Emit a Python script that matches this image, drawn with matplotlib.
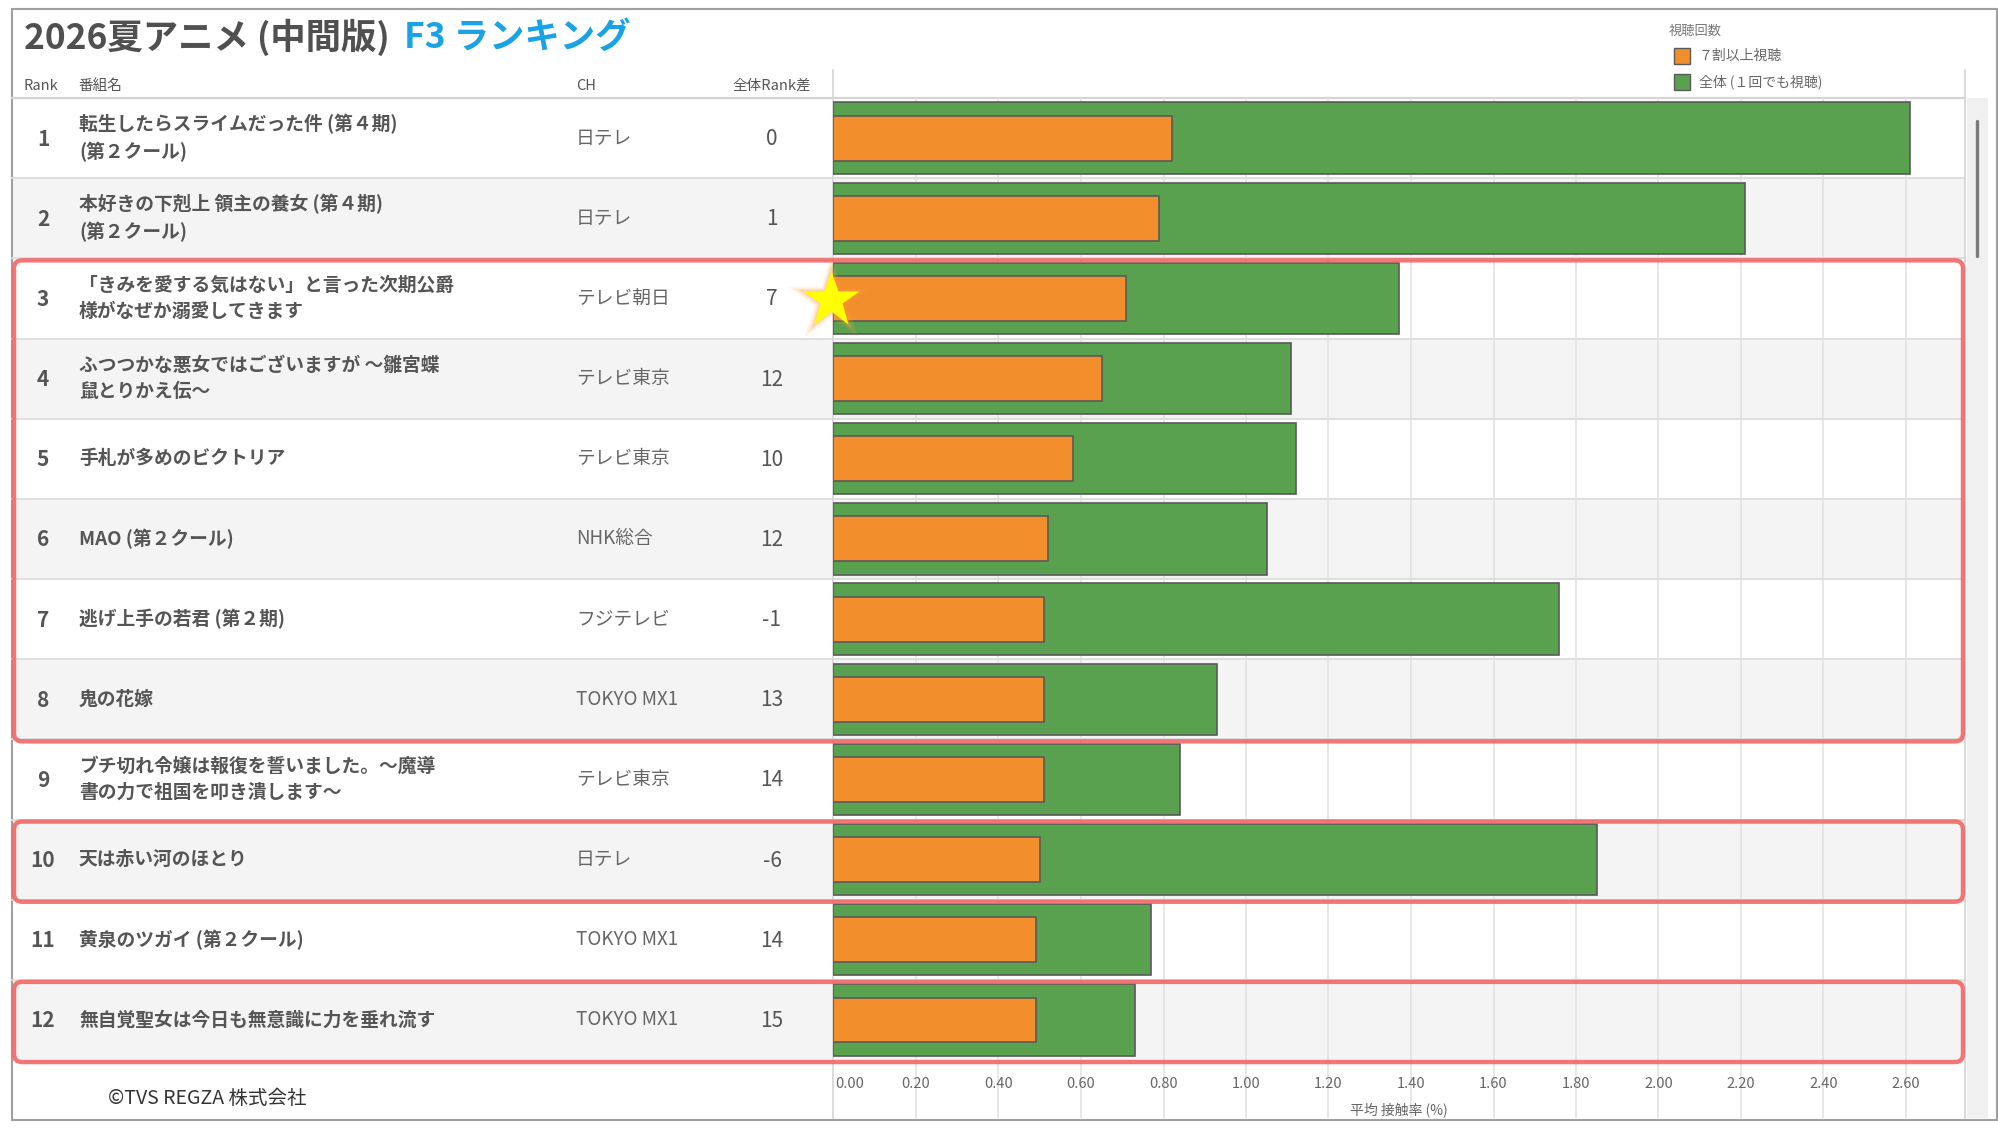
import matplotlib
matplotlib.use("Agg")
import matplotlib.pyplot as plt
from matplotlib.patches import Rectangle, FancyBboxPatch
from matplotlib.transforms import blended_transform_factory
import numpy as np

plt.rcParams['font.family'] = ['Noto Sans CJK JP', 'DejaVu Sans']

# ---------------- data ----------------
ranks = [1, 2, 3, 4, 5, 6, 7, 8, 9, 10, 11, 12]
titles = [
    "転生したらスライムだった件 (第４期)\n(第２クール)",
    "本好きの下剋上 領主の養女 (第４期)\n(第２クール)",
    "「きみを愛する気はない」と言った次期公爵\n様がなぜか溺愛してきます",
    "ふつつかな悪女ではございますが ～雛宮蝶\n鼠とりかえ伝～",
    "手札が多めのビクトリア",
    "MAO (第２クール)",
    "逃げ上手の若君 (第２期)",
    "鬼の花嫁",
    "ブチ切れ令嬢は報復を誓いました。～魔導\n書の力で祖国を叩き潰します～",
    "天は赤い河のほとり",
    "黄泉のツガイ (第２クール)",
    "無自覚聖女は今日も無意識に力を垂れ流す",
]
channels = ["日テレ", "日テレ", "テレビ朝日", "テレビ東京", "テレビ東京", "NHK総合",
            "フジテレビ", "TOKYO MX1", "テレビ東京", "日テレ", "TOKYO MX1", "TOKYO MX1"]
rank_diff = [0, 1, 7, 12, 10, 12, -1, 13, 14, -6, 14, 15]
orange_vals = [0.82, 0.79, 0.71, 0.65, 0.58, 0.52, 0.51, 0.51, 0.51, 0.50, 0.49, 0.49]
green_vals = [2.61, 2.21, 1.37, 1.11, 1.12, 1.05, 1.76, 0.93, 0.84, 1.85, 0.77, 0.73]
x_ticks = [0.0, 0.2, 0.4, 0.6, 0.8, 1.0, 1.2, 1.4, 1.6, 1.8, 2.0, 2.2, 2.4, 2.6]
highlight_groups = [(3, 8), (10, 10), (12, 12)]
star_rank = 3

title_main = "2026夏アニメ (中間版)"
title_accent = "F3 ランキング"
legend_title = "視聴回数"
legend_labels = ["７割以上視聴", "全体 (１回でも視聴)"]
header_labels = ["Rank", "番組名", "CH", "全体Rank差"]
xlabel = "平均 接触率 (%)"
credit = "©TVS REGZA 株式会社"

# ---------------- layout ----------------
W, H = 1999, 1128
DPI = 100
fig = plt.figure(figsize=(W / DPI, H / DPI), dpi=DPI)
fig.patch.set_facecolor("white")

TOP = 98.0
ROW_H = 80.17
BOT = 1118.0
X0, X1 = 833.5, 1965.0
LEFT = 12.0
n = len(ranks)

def ry(i):
    return TOP + i * ROW_H

ORANGE = "#f28e2b"
GREEN = "#59a14f"
EDGE = "#5a5a5a"
TXT = "#555555"
TXT2 = "#666666"

# background canvas (pixel coordinates)
bg = fig.add_axes([0, 0, 1, 1], zorder=0)
bg.set_xlim(0, W)
bg.set_ylim(H, 0)
bg.axis("off")

for i in range(n):
    if i % 2 == 1:
        bg.add_patch(Rectangle((LEFT, ry(i)), X1 - LEFT, ROW_H, facecolor="#f4f4f4",
                               edgecolor="none"))
for i in range(1, n):
    bg.plot([LEFT, X1], [ry(i), ry(i)], color="#dcdcdc", lw=1.3)
bg.plot([LEFT, X1], [TOP, TOP], color="#d4d4d4", lw=1.6)
bg.plot([X0, X0], [70, BOT], color="#d4d4d4", lw=1.2)
bg.plot([X1, X1], [70, BOT], color="#d4d4d4", lw=1.2)

# scrollbar
bg.add_patch(Rectangle((X1 + 2, TOP), 21, BOT - TOP, facecolor="#f0f0f0", edgecolor="none"))
bg.plot([1977, 1977], [121, 256], color="#7a7a7a", lw=2.4, solid_capstyle="round")

# outer frame
bg.add_patch(Rectangle((LEFT, 9), 1997 - LEFT, 1120 - 9, facecolor="none",
                       edgecolor="#a0a0a0", lw=1.5))

# title
t1 = bg.text(24, 37, title_main, fontsize=25.5, fontweight="bold", color="#505050",
             ha="left", va="center")
fig.canvas.draw()
bb = t1.get_window_extent()
x_after = bb.x1 + 14
bg.text(x_after, 37, title_accent, fontsize=25.5, fontweight="bold", color="#19a3e6",
        ha="left", va="center")

# headers
hy = 86
bg.text(24, hy, header_labels[0], fontsize=10.5, color=TXT, ha="left", va="center")
bg.text(79, hy, header_labels[1], fontsize=10.5, color=TXT, ha="left", va="center")
bg.text(576, hy, header_labels[2], fontsize=10.5, color=TXT, ha="left", va="center")
bg.text(772, hy, header_labels[3], fontsize=10.5, color=TXT, ha="center", va="center")

# table rows
for i in range(n):
    yc = ry(i) + ROW_H / 2
    bg.text(43, yc + 1, str(ranks[i]), fontsize=15, fontweight="bold", color=TXT,
            ha="center", va="center")
    bg.text(79, yc, titles[i], fontsize=13.5, fontweight="bold", color=TXT,
            ha="left", va="center", linespacing=1.45)
    bg.text(576, yc, channels[i], fontsize=13.5, color=TXT2, ha="left", va="center")
    bg.text(772, yc + 1, str(rank_diff[i]), fontsize=15, color=TXT, ha="center", va="center")

bg.text(108, 1099, credit, fontsize=14, color="#333333", ha="left", va="center")

# legend
bg.text(1669, 31, legend_title, fontsize=9.5, color="#777777", ha="left", va="center")
for k, (c, lab) in enumerate(zip([ORANGE, GREEN], legend_labels)):
    yy = 56 + k * 26
    bg.add_patch(Rectangle((1674, yy - 8), 16, 16, facecolor=c, edgecolor=EDGE, lw=1))
    bg.text(1699, yy, lab, fontsize=10, color=TXT2, ha="left", va="center")

# ---------------- bar chart ----------------
ax = fig.add_axes([X0 / W, 1 - BOT / H, (X1 - X0) / W, (BOT - TOP) / H], zorder=1)
ax.set_facecolor("none")
ax.set_xlim(0, (X1 - X0) / 412.5)
ax.set_ylim((BOT - TOP) / ROW_H, 0)
ypos = np.arange(n) + 0.5
ax.barh(ypos, green_vals, height=0.89, color=GREEN, edgecolor=EDGE, lw=1.2, zorder=3)
ax.barh(ypos, orange_vals, height=0.56, color=ORANGE, edgecolor=EDGE, lw=1.2, zorder=4)
ax.set_xticks(x_ticks)
ax.set_yticks([])
ax.tick_params(axis="x", length=0, labelbottom=False)
ax.grid(axis="x", color="#e0e0e0", lw=1.1, zorder=1)
for s in ax.spines.values():
    s.set_visible(False)
ylab = n + 0.3
for t in x_ticks:
    ax.text(t + (0.005 if t == 0 else 0), ylab, f"{t:.2f}", fontsize=10.5, color=TXT2,
            ha="left" if t == 0 else "center", va="center")
trans = blended_transform_factory(ax.transAxes, ax.transData)
ax.text(0.5, n + 0.62, xlabel, transform=trans, fontsize=10, color=TXT2,
        ha="center", va="center")

# ---------------- overlay (highlights, star) ----------------
top = fig.add_axes([0, 0, 1, 1], zorder=2)
top.set_xlim(0, W)
top.set_ylim(H, 0)
top.axis("off")
top.patch.set_alpha(0)
for a, b in highlight_groups:
    y0 = ry(a - 1) + 2
    y1 = ry(b) + 2
    top.add_patch(FancyBboxPatch((LEFT + 2, y0), X1 - LEFT - 4, y1 - y0,
                                 boxstyle="round,pad=0,rounding_size=8",
                                 facecolor="none", edgecolor="#f26767", lw=3.2, alpha=0.9))

sy = ry(star_rank - 1) + ROW_H / 2 + 2
for ms, al in [(66, 0.10), (58, 0.16), (50, 0.28)]:
    top.plot(831, sy, marker="*", ms=ms, color="#ffa040", alpha=al, mec="none")
top.plot(831, sy, marker="*", ms=42, color="#ffff00", mec="none")

fig.savefig("out.png", dpi=DPI, facecolor="white")
